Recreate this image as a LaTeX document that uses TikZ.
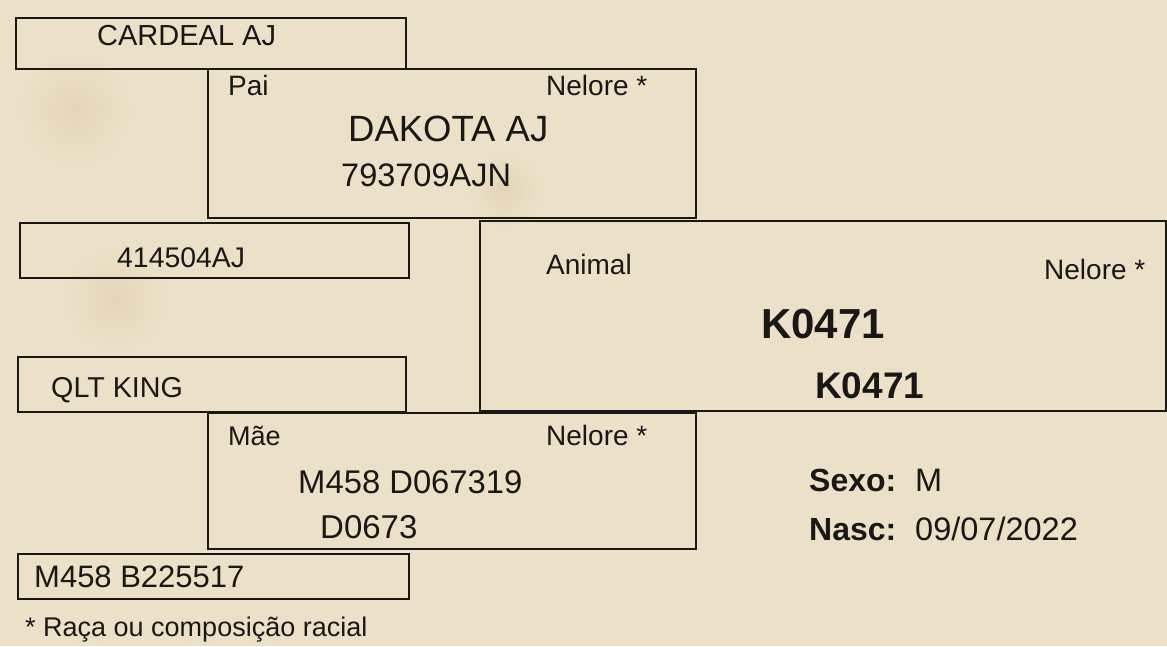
\documentclass[tikz,border=0pt]{standalone}
\usepackage{fontspec}
\setmainfont{Liberation Sans}
\usetikzlibrary{positioning}

\definecolor{parchment}{RGB}{236,225,200}
\definecolor{stain}{RGB}{228,213,184}
\definecolor{ink}{RGB}{26,24,22}
\newcommand{\txtsize}[1]{\fontsize{#1}{#1}\selectfont}

\begin{document}
\begin{tikzpicture}[x=1pt, y=-1pt,
    box/.style={draw=ink, line width=2.4pt, rectangle, anchor=north west, inner sep=0pt},
    lbl/.style={anchor=base west, inner sep=0pt, text=ink, font=\txtsize{28}}]

  \fill[parchment] (0,0) rectangle (1167,646);
  \useasboundingbox (0,0) rectangle (1167,646);
  \shade[inner color=stain, outer color=parchment] (75,110) circle (60);
  \shade[inner color=stain, outer color=parchment] (115,300) circle (55);
  \shade[inner color=stain, outer color=parchment] (505,190) circle (40);

  % grandparents and parents
  \node[box, minimum width=390, minimum height=51] (cardeal) at (15,17) {};
  \node[box, minimum width=488, minimum height=149] (pai) at (207,68) {};
  \node[box, minimum width=389, minimum height=55] (avopai) at (19,222) {};
  \node[box, minimum width=686, minimum height=190] (animal) at (479,220) {};
  \node[box, minimum width=388, minimum height=55] (qlt) at (17,356) {};
  \node[box, minimum width=488, minimum height=136] (mae) at (207,412) {};
  \node[box, minimum width=391, minimum height=45] (avomae) at (17,553) {};

  % texts
  \node[lbl, font=\txtsize{29}] (cardealName) at (97,45) {CARDEAL AJ};
  \node[lbl] (paiTag) at (228,95) {Pai};
  \node[lbl] (paiRace) at (546,95) {Nelore *};
  \node[lbl, font=\txtsize{36.5}] (paiName) at (348,141) {DAKOTA AJ};
  \node[lbl, font=\txtsize{32.5}] (paiId) at (341,186) {793709AJN};
  \node[lbl, font=\txtsize{28.4}] (avopaiName) at (117,267) {414504AJ};

  \node[lbl] (animalTag) at (546,274) {Animal};
  \node[lbl] (animalRace) at (1044,279) {Nelore *};
  \node[lbl, font=\bfseries\txtsize{42}] (animalName) at (761,338) {K0471};
  \node[lbl, font=\bfseries\txtsize{37}] (animalId) at (815,398) {K0471};

  \node[lbl, font=\txtsize{28.7}] (qltName) at (51,397) {QLT KING};
  \node[lbl, font=\txtsize{27}] (maeTag) at (228,445) {Mãe};
  \node[lbl] (maeRace) at (546,445) {Nelore *};
  \node[lbl, font=\txtsize{32.8}] (maeName) at (298,493) {M458 D067319};
  \node[lbl, font=\txtsize{33}] (maeId) at (320,538) {D0673};
  \node[lbl, font=\txtsize{31}] (avomaeName) at (34,587) {M458 B225517};

  \node[lbl, font=\bfseries\txtsize{32}] (sexoTag) at (809,491) {Sexo:};
  \node[lbl, font=\txtsize{32.5}] (sexoVal) at (915,491) {M};
  \node[lbl, font=\bfseries\txtsize{32}] (nascTag) at (809,540) {Nasc:};
  \node[lbl, font=\txtsize{32.5}] (nascVal) at (915,540) {09/07/2022};

  \node[lbl, font=\txtsize{27}] (nota) at (25,636) {* Raça ou composição racial};
\end{tikzpicture}
\end{document}
